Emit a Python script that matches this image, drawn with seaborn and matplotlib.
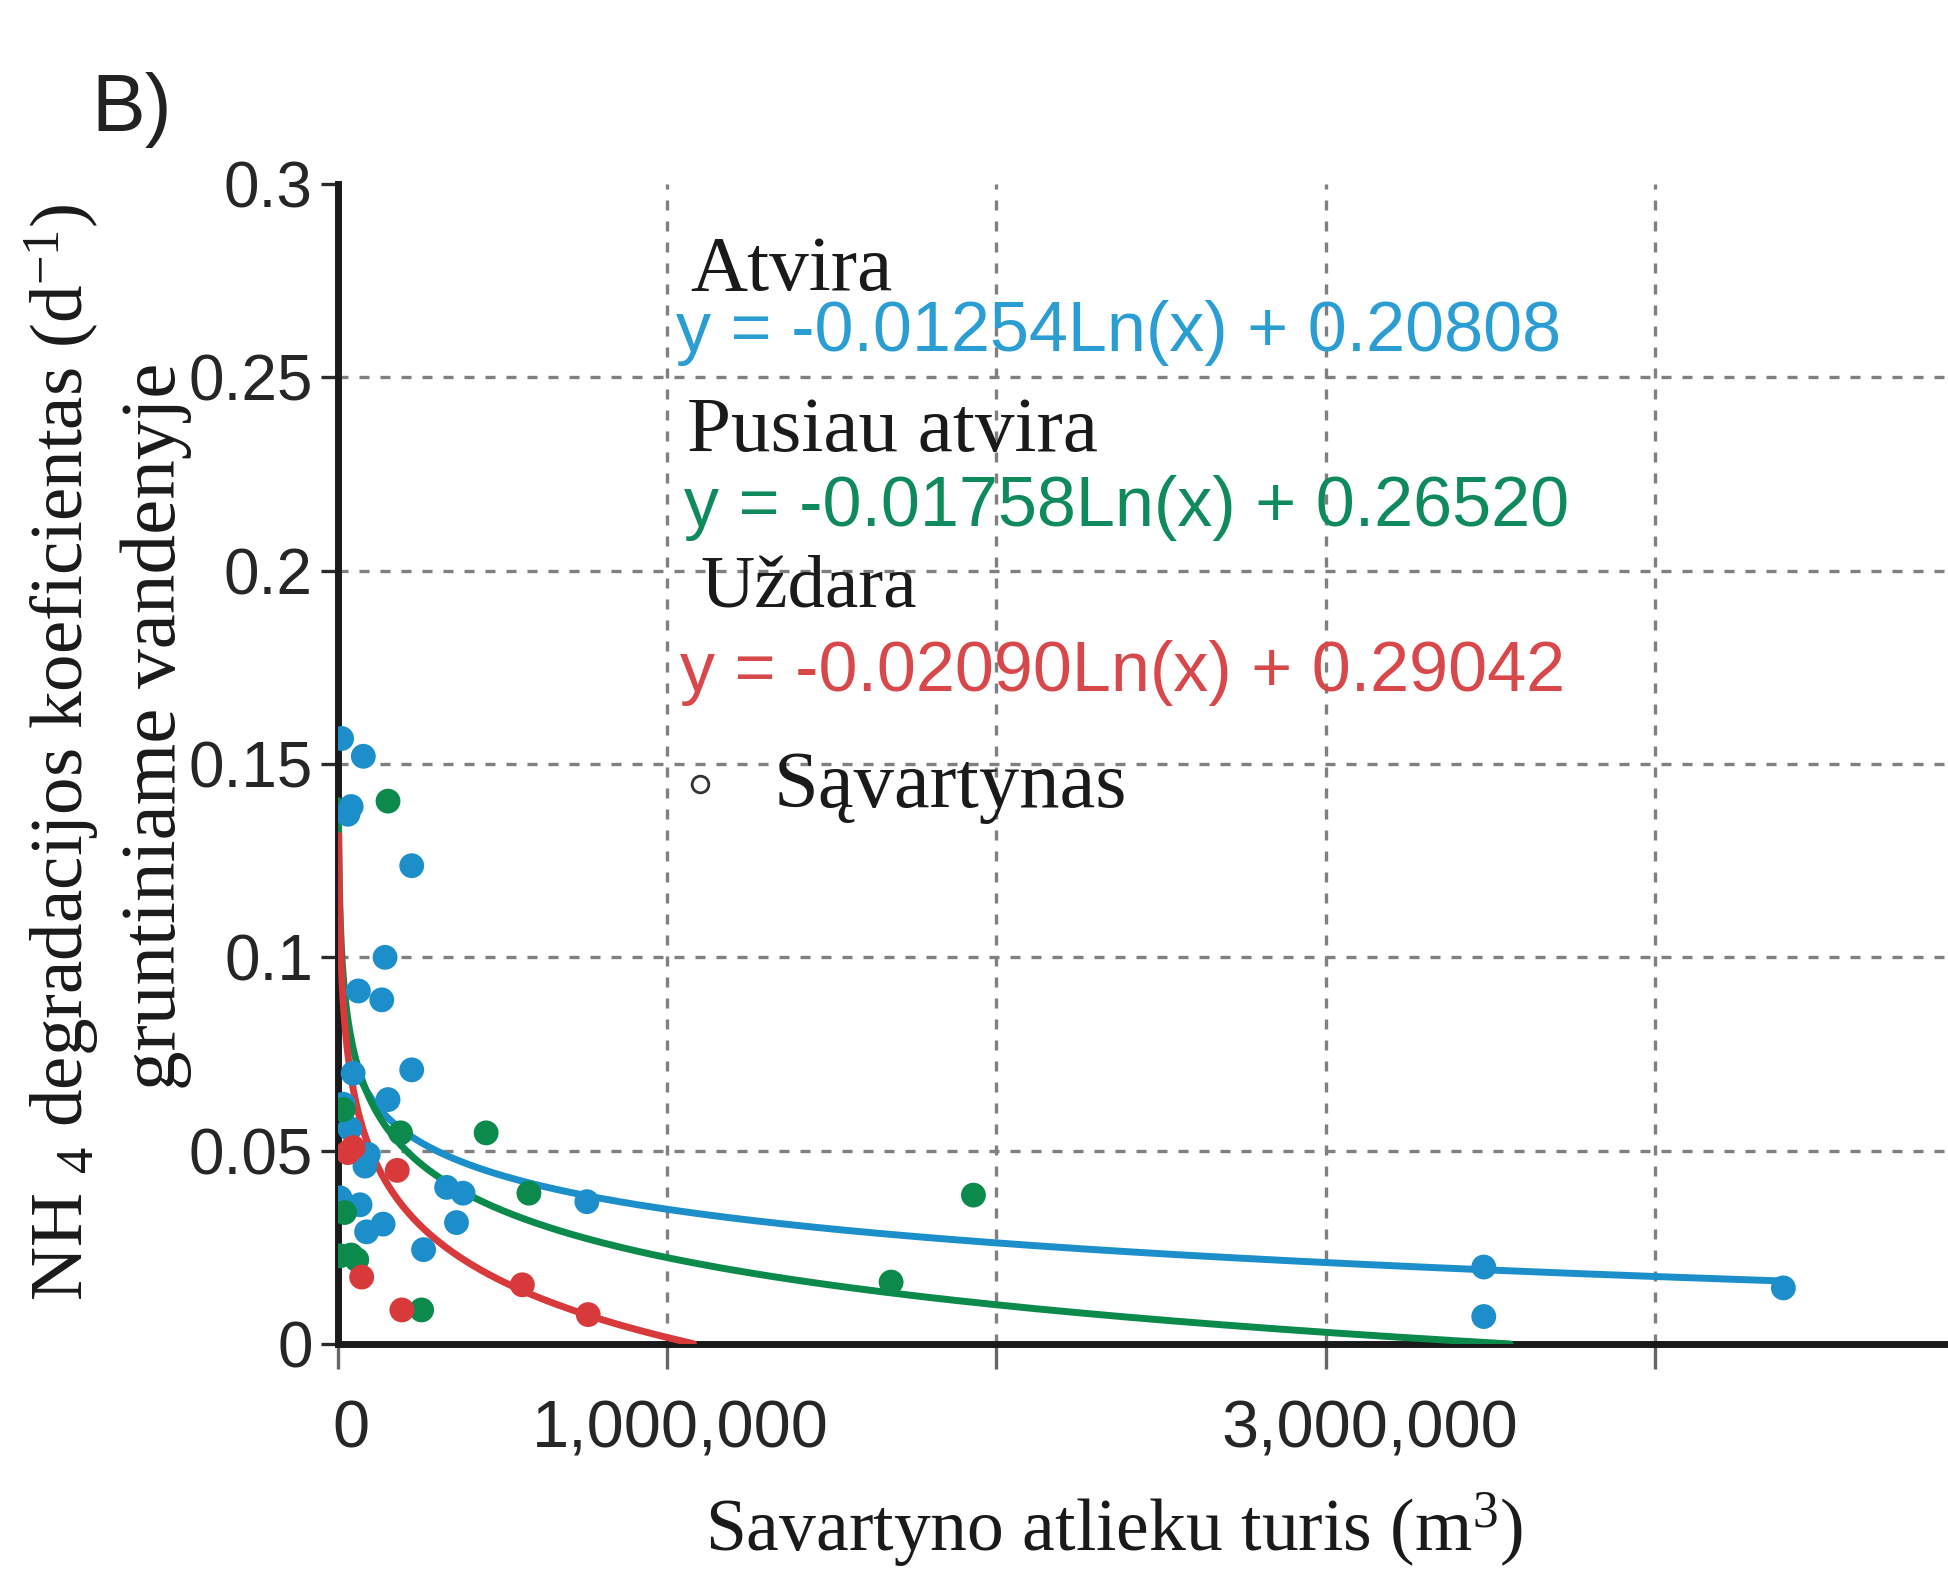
import numpy as np
import pandas as pd
import matplotlib
matplotlib.use("Agg")
import matplotlib.pyplot as plt
import seaborn as sns

# ---- data ----
blue_x = [0.011e6, 0.077e6, 0.030e6, 0.040e6, 0.224e6, 0.143e6, 0.062e6, 0.133e6, 0.046e6, 0.224e6,
          0.152e6, 0.016e6, 0.036e6, 0.092e6, 0.082e6, 0.330e6, 0.380e6, 0.360e6, 0.260e6, 0.006e6,
          0.067e6, 0.137e6, 0.087e6, 0.756e6, 3.48e6, 3.48e6, 4.39e6]
blue_y = [0.1566, 0.152, 0.137, 0.139, 0.1237, 0.100, 0.0913, 0.089, 0.070, 0.0709,
          0.0632, 0.062, 0.0557, 0.049, 0.046, 0.0405, 0.039, 0.0314, 0.0244, 0.0378,
          0.036, 0.031, 0.029, 0.0368, 0.0199, 0.0071, 0.0145]
green_x = [0.152e6, 0.016e6, 0.190e6, 0.450e6, 0.580e6, 0.020e6, 0.057e6, 0.006e6, 0.254e6,
           0.040e6, 1.68e6, 1.93e6]
green_y = [0.1404, 0.0606, 0.0546, 0.0546, 0.039, 0.034, 0.0218, 0.0228, 0.0088,
           0.0230, 0.016, 0.0385]
red_x = [0.046e6, 0.180e6, 0.072e6, 0.194e6, 0.560e6, 0.760e6, 0.030e6]
red_y = [0.0508, 0.0449, 0.0173, 0.0088, 0.0153, 0.0076, 0.0495]

groups = ["Atvira", "Pusiau atvira", "Uždara"]
slopes = [-0.01254, -0.01758, -0.02090]
intercepts = [0.20808, 0.26520, 0.29042]
fit_start = [60e3, 1.2e3, 2.0e3]
fit_end = [4.39e6, 3.56e6, 1.08e6]
eq_labels = ["y = -0.01254Ln(x) + 0.20808",
             "y = -0.01758Ln(x) + 0.26520",
             "y = -0.02090Ln(x) + 0.29042"]
y_ticks = [0, 0.05, 0.1, 0.15, 0.2, 0.25, 0.3]
y_ticklabels = ["0", "0.05", "0.1", "0.15", "0.2", "0.25", "0.3"]
x_grid = [1e6, 2e6, 3e6, 4e6]
x_tickmarks = [0, 1e6, 2e6, 3e6, 4e6]
x_label_pos = [0.038e6, 1.041e6, 3.135e6]
x_ticklabels = ["0", "1,000,000", "3,000,000"]

point_colors = ["#1c8fcb", "#0b8a4c", "#d8393b"]
eq_colors = ["#2a9dd2", "#0f8a5c", "#d8484a"]

df = pd.concat([
    pd.DataFrame({"x": blue_x, "y": blue_y, "grupe": groups[0]}),
    pd.DataFrame({"x": green_x, "y": green_y, "grupe": groups[1]}),
    pd.DataFrame({"x": red_x, "y": red_y, "grupe": groups[2]}),
], ignore_index=True)

fit_rows = []
for g, a, b, s, e in zip(groups, slopes, intercepts, fit_start, fit_end):
    xs = np.geomspace(s, e, 400)
    fit_rows.append(pd.DataFrame({"x": xs, "y": a * np.log(xs) + b, "grupe": g}))
fit_df = pd.concat(fit_rows, ignore_index=True)

# ---- style ----
sns.set_style("white")
plt.rcParams["font.family"] = ["Liberation Sans", "DejaVu Sans"]
plt.rcParams["mathtext.default"] = "regular"

fig = plt.figure(figsize=(19.48, 15.73), dpi=100)
ax = fig.add_axes([0.1735, 0.1456, 0.8265, 0.7374])

palette = dict(zip(groups, point_colors))
sns.lineplot(data=fit_df, x="x", y="y", hue="grupe", palette=palette, linewidth=5,
             legend=False, ax=ax, zorder=3, sort=False, estimator=None)
sns.scatterplot(data=df, x="x", y="y", hue="grupe", palette=palette, s=320,
                edgecolor="none", legend=False, ax=ax, zorder=4)

ax.set_xlim(0, 4.89e6)
ax.set_ylim(0, 0.3)
ax.set_xticks(x_label_pos)
ax.set_xticklabels(x_ticklabels)
ax.set_xticks(x_tickmarks, minor=True)
ax.set_yticks(y_ticks)
ax.set_yticklabels(y_ticklabels)
ax.tick_params(axis="y", which="major", labelsize=46, length=12, width=2.4,
               color="#2a2a2a", pad=6, left=True)
ax.tick_params(axis="x", which="major", labelsize=48, length=0, pad=40, bottom=True)
ax.tick_params(axis="x", which="minor", length=18, width=2.4, color="#666666", bottom=True)
ax.set_xlabel("")
ax.set_ylabel("")

# dotted grid
dash = (0, (3.0, 3.3))
for yv in y_ticks[1:-1]:
    ax.axhline(yv, color="#808080", linestyle=dash, linewidth=2.4, zorder=1)
for xv in x_grid:
    ax.axvline(xv, color="#808080", linestyle=dash, linewidth=2.4, zorder=1)

for side in ["top", "right"]:
    ax.spines[side].set_visible(False)
for side in ["left", "bottom"]:
    ax.spines[side].set_linewidth(5)
    ax.spines[side].set_color("#1a1a1a")

# annotation block
serif = ["Liberation Serif", "DejaVu Serif"]
name_x = [1.07e6, 1.061e6, 1.10e6]
name_y = [0.2725, 0.2310, 0.1907]
name_size = [57, 57, 54]
eq_x = [1.028e6, 1.05e6, 1.04e6]
eq_y = [0.2567, 0.2116, 0.1689]
for i in range(3):
    ax.text(name_x[i], name_y[i], groups[i], fontsize=name_size[i], family=serif,
            color="#1a1a1a", va="baseline", ha="left", zorder=5)
    ax.text(eq_x[i], eq_y[i], eq_labels[i], fontsize=50.5, color=eq_colors[i],
            va="baseline", ha="left", zorder=5)
ax.plot([1.10e6], [0.1448], marker="o", markersize=12, markerfacecolor="white",
        markeredgecolor="#333333", markeredgewidth=2.0, linestyle="none", zorder=5)
ax.text(1.322e6, 0.1389, "Sąvartynas", fontsize=58, family=serif, color="#1a1a1a",
        va="baseline", ha="left", zorder=5)

# panel letter and axis titles
fig.text(0.047, 0.917, "B)", fontsize=58, color="#222222", ha="left", va="baseline")
fig.text(0.032, 0.522, "NH $_{4}$ degradacijos koeficientas (d$^{-1}$)", rotation=90,
         fontsize=54, family=serif, color="#1a1a1a", ha="center", va="center")
fig.text(0.080, 0.538, "gruntiniame vandenyje", rotation=90,
         fontsize=57, family=serif, color="#1a1a1a", ha="center", va="center")
fig.text(0.572, 0.014, "Savartyno atlieku turis (m$^{3}$)", fontsize=53, family=serif,
         color="#1a1a1a", ha="center", va="baseline")

fig.savefig("out.png", dpi=100)
